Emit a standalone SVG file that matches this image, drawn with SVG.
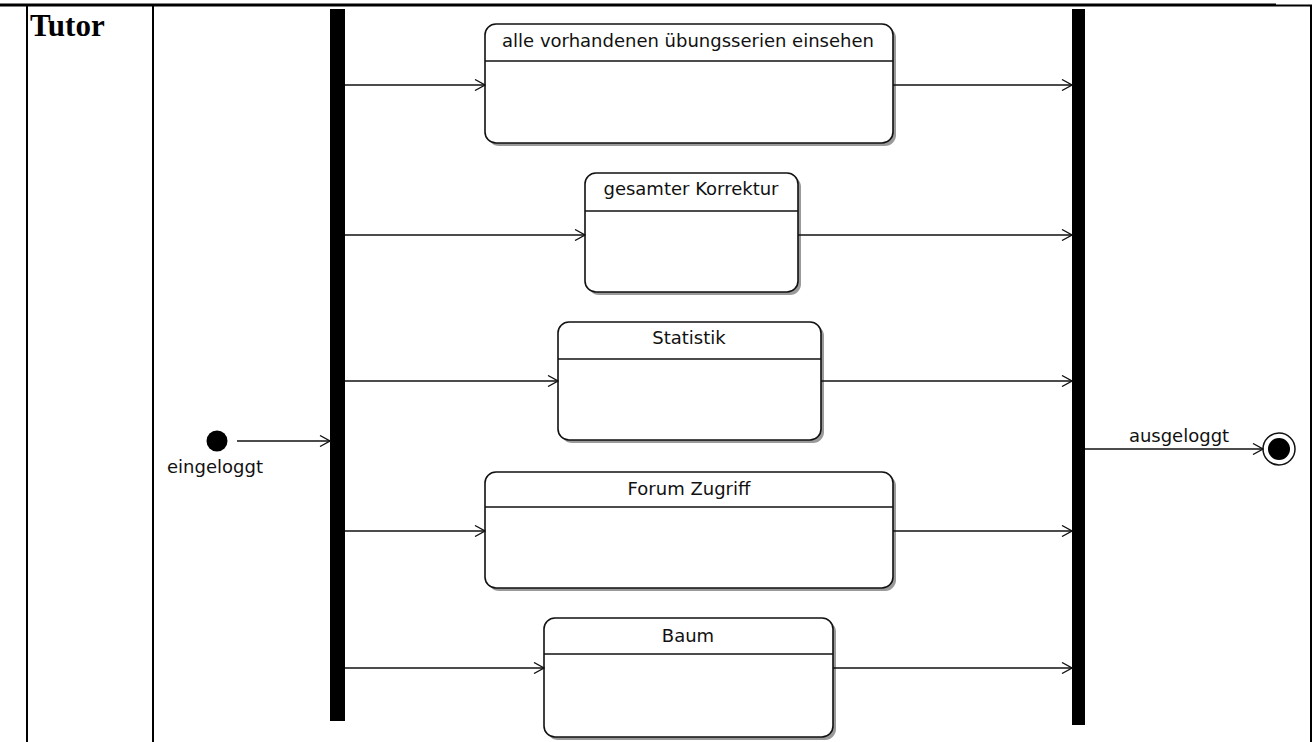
<svg xmlns="http://www.w3.org/2000/svg" width="1312" height="742" viewBox="0 0 1312 742">
<defs>
<style>
.tbl{stroke:#000;fill:none}
.box{fill:#fff;stroke:#111;stroke-width:1.6}
.shadow{fill:#9a9a9a}
.div{stroke:#111;stroke-width:1.4}
.lbl{font-family:"DejaVu Sans",sans-serif;font-size:18px;fill:#111;text-anchor:middle}
.edge{stroke:#111;stroke-width:1.4;fill:none;marker-end:url(#arr)}
.bar{fill:#000}
</style>
<marker id="arr" viewBox="0 0 12 12" refX="11" refY="6" markerWidth="12" markerHeight="12" markerUnits="userSpaceOnUse" orient="auto">
<path d="M1,0.5 L11,6 L1,11.5" fill="none" stroke="#111" stroke-width="1.3"/>
</marker>
</defs>
<rect width="1312" height="742" fill="#fff"/>
<g id="table">
<line class="tbl" x1="0" y1="5" x2="1276" y2="5" stroke-width="3"/>
<line class="tbl" x1="1276" y1="5.5" x2="1312" y2="5.5" stroke-width="2"/>
<line class="tbl" x1="27" y1="4" x2="27" y2="742" stroke-width="2"/>
<line class="tbl" x1="153" y1="4" x2="153" y2="742" stroke-width="2"/>
<line class="tbl" x1="1311" y1="5" x2="1311" y2="742" stroke-width="2"/>
<text x="30" y="36" font-family="'Liberation Serif',serif" font-weight="bold" font-size="31" fill="#000">Tutor</text>
</g>
<g id="fork"><rect class="bar" x="330" y="9" width="15" height="712"/></g>
<g id="join"><rect class="bar" x="1072" y="9" width="13" height="716"/></g>
<g id="start">
<circle cx="217" cy="441" r="10.5" fill="#000"/>
<text class="lbl" x="215" y="473">eingeloggt</text>
</g>
<g id="end">
<circle cx="1279" cy="449" r="16" fill="#fff" stroke="#111" stroke-width="1.5"/>
<circle cx="1279" cy="449" r="11" fill="#000"/>
</g>
<g id="s1">
<rect class="shadow" x="488" y="27" width="408" height="119" rx="11"/>
<rect class="box" x="485" y="24" width="408" height="119" rx="11"/>
<line class="div" x1="485" y1="61" x2="893" y2="61"/>
<text class="lbl" x="688" y="47">alle vorhandenen übungsserien einsehen</text>
</g>
<g id="s2">
<rect class="shadow" x="588" y="176" width="213" height="119" rx="11"/>
<rect class="box" x="585" y="173" width="213" height="119" rx="11"/>
<line class="div" x1="585" y1="211" x2="798" y2="211"/>
<text class="lbl" x="691" y="195">gesamter Korrektur</text>
</g>
<g id="s3">
<rect class="shadow" x="561" y="325" width="263" height="118" rx="11"/>
<rect class="box" x="558" y="322" width="263" height="118" rx="11"/>
<line class="div" x1="558" y1="359" x2="821" y2="359"/>
<text class="lbl" x="689" y="344">Statistik</text>
</g>
<g id="s4">
<rect class="shadow" x="488" y="475" width="408" height="116" rx="11"/>
<rect class="box" x="485" y="472" width="408" height="116" rx="11"/>
<line class="div" x1="485" y1="507" x2="893" y2="507"/>
<text class="lbl" x="689" y="495">Forum Zugriff</text>
</g>
<g id="s5">
<rect class="shadow" x="547" y="621" width="289" height="119" rx="11"/>
<rect class="box" x="544" y="618" width="289" height="119" rx="11"/>
<line class="div" x1="544" y1="654" x2="833" y2="654"/>
<text class="lbl" x="688" y="642">Baum</text>
</g>
<g id="connectors">
<line class="edge" x1="237" y1="441" x2="330" y2="441"/>
<line class="edge" x1="345" y1="85" x2="485" y2="85"/>
<line class="edge" x1="893" y1="85" x2="1072" y2="85"/>
<line class="edge" x1="345" y1="235" x2="585" y2="235"/>
<line class="edge" x1="798" y1="235" x2="1072" y2="235"/>
<line class="edge" x1="345" y1="381" x2="558" y2="381"/>
<line class="edge" x1="821" y1="381" x2="1072" y2="381"/>
<line class="edge" x1="345" y1="531" x2="485" y2="531"/>
<line class="edge" x1="893" y1="531" x2="1072" y2="531"/>
<line class="edge" x1="345" y1="668" x2="544" y2="668"/>
<line class="edge" x1="833" y1="668" x2="1072" y2="668"/>
<line class="edge" x1="1085" y1="449" x2="1263" y2="449"/>
<text class="lbl" x="1179" y="442">ausgeloggt</text>
</g>
</svg>
